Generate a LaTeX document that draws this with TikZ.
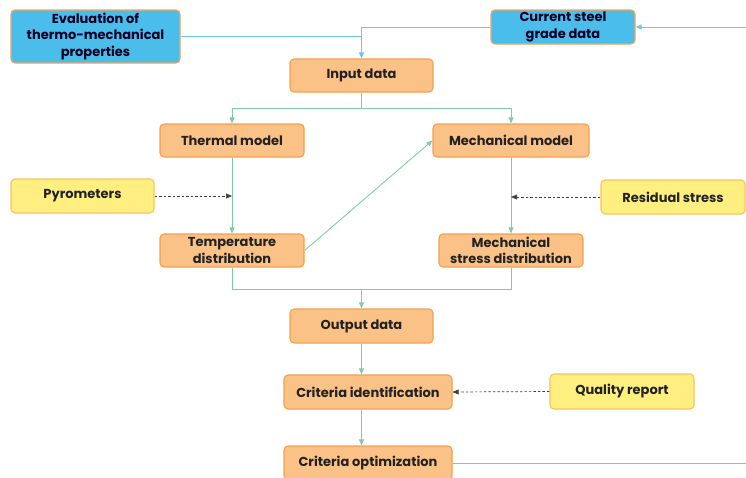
\documentclass[tikz,border=0pt]{standalone}
\usepackage{fontspec}
\setmainfont{Poppins}
\usetikzlibrary{arrows.meta}
\definecolor{orfill}{HTML}{FBC287}
\definecolor{ordraw}{HTML}{F5A04E}
\definecolor{yefill}{HTML}{FFEF80}
\definecolor{yedraw}{HTML}{F9C25C}
\definecolor{blfill}{HTML}{4ABDEA}
\definecolor{bldraw}{HTML}{F0A55A}
\definecolor{gline}{HTML}{7CCFA4}
\definecolor{bline}{HTML}{6CC6EC}
\definecolor{txt}{HTML}{222222}
\tikzset{
  box/.style={draw=ordraw, fill=orfill, line width=1.1pt, rounded corners=4pt,
    align=center, font=\fontsize{13}{16.5}\selectfont\bfseries, text=txt, inner sep=1pt},
  obox/.style={box},
  ybox/.style={box, draw=yedraw, fill=yefill},
  bbox/.style={box, draw=bldraw, fill=blfill, text=black!85!blue},
  gl/.style={draw=gline, line width=0.9pt},
  ga/.style={gl, -{Triangle[length=6pt,width=5pt]}},
  bl/.style={draw=bline, line width=0.9pt},
  ba/.style={bl, -{Triangle[length=6pt,width=5pt]}},
  da/.style={draw=black!75, dashed, dash pattern=on 2.5pt off 2pt, line width=0.7pt, -{Triangle[length=6pt,width=5pt]}}
}
\begin{document}
\begin{tikzpicture}[x=1pt,y=-1pt]
\useasboundingbox (0,0) rectangle (746,477);
\node[bbox, minimum width=169pt, minimum height=53pt] (eval) at (95.5,36.5) {Evaluation of\\thermo-mechanical\\properties};
\node[bbox, minimum width=144pt, minimum height=34pt] (steel) at (563,27) {Current steel\\grade data};
\node[obox, minimum width=143pt, minimum height=33pt] (input) at (361.5,75.5) {Input data};
\node[obox, minimum width=144pt, minimum height=33pt] (thermal) at (232,140.5) {Thermal model};
\node[obox, minimum width=156pt, minimum height=33pt] (mech) at (511,140.5) {Mechanical model};
\node[ybox, minimum width=143pt, minimum height=34pt] (pyro) at (82.5,196) {Pyrometers};
\node[ybox, minimum width=144pt, minimum height=34pt] (resid) at (673,197) {Residual stress};
\node[obox, minimum width=144pt, minimum height=33pt] (temp) at (232,250.5) {Temperature\\distribution};
\node[obox, minimum width=144pt, minimum height=33pt] (mstress) at (511,250.5) {Mechanical\\stress distribution};
\node[obox, minimum width=143pt, minimum height=34pt] (output) at (361.5,326) {Output data};
\node[obox, minimum width=168pt, minimum height=34pt] (critid) at (368,392) {Criteria identification};
\node[ybox, minimum width=144pt, minimum height=35pt] (quality) at (622,391.5) {Quality report};
\node[obox, minimum width=168pt, minimum height=34pt] (critopt) at (368,463) {Criteria optimization};
\coordinate (rtop) at (746,27);
\coordinate (rbot) at (746,463);
\coordinate (split) at (361.5,108);
\coordinate (merge) at (361.5,289);
% blue connectors
\draw[ba] (steel.west) -| (input.north);
\draw[bl] (eval.east) -- (eval.east -| input.north);
\draw[ba] (rtop) -- (steel.east);
\draw[bl] (critopt.east) -- (rbot);
% green connectors
\draw[gl] (input.south) -- (split);
\draw[ga] (split) -| (thermal.north);
\draw[ga] (split) -| (mech.north);
\draw[ga] (thermal.south) -- (temp.north);
\draw[ga] (mech.south) -- (mstress.north);
\draw[ga] (temp.east) -- (mech.west);
\draw[gl] (temp.south) |- (merge);
\draw[gl] (mstress.south) |- (merge);
\draw[ga] (merge) -- (output.north);
\draw[ga] (output.south) -- (output.south |- critid.north);
\draw[ga] (critid.south -| output.south) -- (critopt.north -| output.south);
% dashed
\draw[da] (pyro.east) -- (pyro.east -| thermal.south);
\draw[da] (resid.west) -- (resid.west -| mech.south);
\draw[da] (quality.west) -- (critid.east);
\end{tikzpicture}
\end{document}
